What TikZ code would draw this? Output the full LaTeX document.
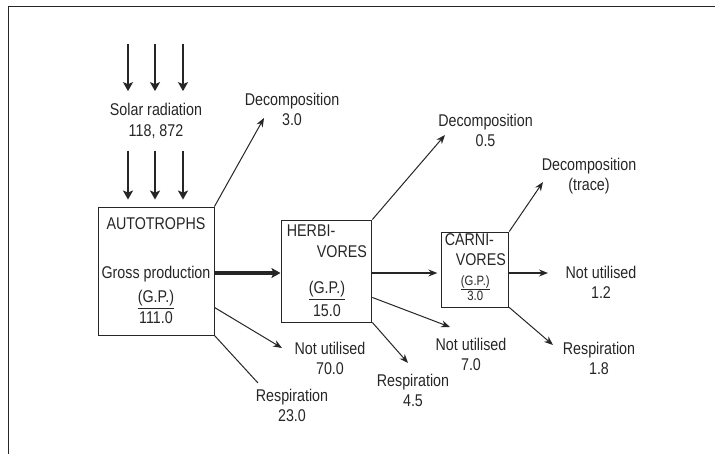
\documentclass[tikz,border=0pt]{standalone}
\usepackage{fontspec}
\setmainfont{Liberation Sans}[FakeStretch=0.84]
\usetikzlibrary{positioning,arrows.meta}
\definecolor{ink}{HTML}{262626}
\newcommand{\gpbar}[1]{\setbox0=\hbox{#1}\rlap{\rule[\dimexpr-\dp0-2.3pt\relax]{\wd0}{1pt}}\box0}

\begin{document}
\begin{tikzpicture}[
        x=1pt, y=-1pt,
        every node/.style={text=ink, font=\fontsize{17}{20}\selectfont},
        box/.style={rectangle, draw=ink, line width=0.9pt, align=center},
        lbl/.style={align=center, inner sep=1pt},
        flow/.style={draw=ink, line width=1pt, -{Stealth[length=9pt,width=7pt,inset=3pt]}},
        ray/.style={draw=ink, line width=2.8pt, -{Stealth[length=9pt,width=10pt,inset=2pt]}},
        ]
        \useasboundingbox (0,0) rectangle (715,454);
        \draw[ink, line width=1pt] (715,7) -- (8,7) -- (8,454);

        % trophic levels
        \node[box, minimum width=116pt, minimum height=128pt] (auto) at (156,271)
            {AUTOTROPHS\\[29pt]Gross production\\[4pt]\gpbar{(G.P.)}\\[1pt]111.0};
        \node[box, minimum width=90pt, minimum height=102pt, inner xsep=5pt] (herbi) [right=67pt of auto]
            {\makebox[80pt][l]{HERBI-}\\[1pt]\makebox[80pt][r]{VORES}\\[16pt]\gpbar{(G.P.)}\\[3pt]15.0};
        \node[box, minimum width=67pt, minimum height=75pt, inner sep=0pt] (carni) [right=69pt of herbi, yshift=1.5pt]
            {\makebox[61pt][l]{CARNI-}\\\makebox[61pt][r]{VORES}\\{\fontsize{13.5}{15}\selectfont\begin{tabular}[t]{@{}c@{}}\gpbar{(G.P.)}\\3.0\end{tabular}}};

        \node[lbl, minimum height=59pt] (solar) [above=56pt of auto] {Solar radiation\\[1pt]118, 872};

        % losses
        \node[lbl] (dec1)  at (292,109.5) {Decomposition\\3.0};
        \node[lbl] (not1)  at (330,358.5) {Not utilised\\70.0};
        \node[lbl] (resp1) at (292,405.5) {Respiration\\23.0};
        \node[lbl] (dec2)  at (485.5,130.5) {Decomposition\\0.5};
        \node[lbl] (not2)  at (471,354) {Not utilised\\7.0};
        \node[lbl] (resp2) at (413,390) {Respiration\\4.5};
        \node[lbl] (dec3)  at (589,176) {Decomposition\\(trace)};
        \node[lbl] (not3)  at (601,282) {Not utilised\\1.2};
        \node[lbl] (resp3) at (599,358.5) {Respiration\\1.8};

        %Lines
        \foreach \x [count=\i] in {128,155,183} {
            \coordinate (sun\i) at (\x,44);
            \draw[ray] (sun\i) -- (sun\i |- solar.north);
            \draw[ray, shorten >=7pt] (sun\i |- solar.south) -- (sun\i |- auto.north);
        }
        \draw[ray, line width=3.8pt, shorten >=1pt] ([yshift=-2pt]auto.east) -- ([yshift=-2pt]herbi.west);
        \draw[flow] (auto.north east) -- ([shift={(-28,8.5)}]dec1.center);
        \draw[flow] ([yshift=28pt]auto.south east) -- ([shift={(-48,-10.5)}]not1.center);
        \draw[ink, line width=1pt] (auto.south east) -- ([shift={(-34,-22.5)}]resp1.center);
        \draw[flow] (herbi.north east) -- ([shift={(-40.5,4.5)}]dec2.center);
        \draw[flow, line width=1.8pt, shorten >=4pt] ([yshift=-2pt]herbi.east) -- ([yshift=-2pt]herbi.east -| carni.west);
        \draw[flow] ([yshift=25pt]herbi.south east) -- ([shift={(-21,-27)}]not2.center);
        \draw[flow] (herbi.south east) -- ([shift={(-5,-27)}]resp2.center);
        \draw[flow] (carni.north east) -- ([shift={(-46,6)}]dec3.center);
        \draw[flow, line width=1.8pt] ([yshift=-3.5pt]carni.east) -- ([shift={(-53,-9)}]not3.center);
        \draw[flow] (carni.south east) -- ([shift={(-46,-13.5)}]resp3.center);
\end{tikzpicture}
\end{document}
